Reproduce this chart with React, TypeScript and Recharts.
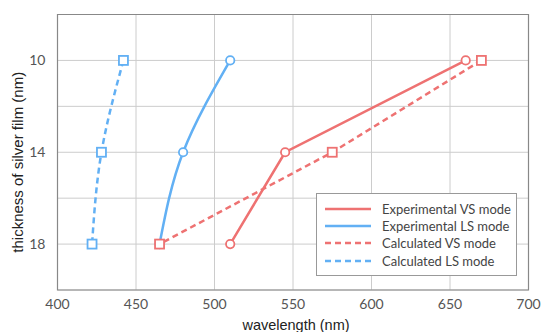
import { LineChart, Line, XAxis, YAxis, CartesianGrid, ReferenceArea } from 'recharts'

const thickness = [10, 14, 18]
const expVS = [660, 545, 510]
const expLS = [510, 480, 465]
const calcVS = [670, 575, 465]
const calcLS = [442, 428, 422]

const xTicks = [400, 450, 500, 550, 600, 650, 700]
const yTicks = [8, 10, 12, 14, 16, 18, 20]
const yLabels = [10, 14, 18]

const RED = '#EE7272'
const BLUE = '#62B0F4'

const toRows = (values: number[]) => thickness.map((t, i) => ({ t, wl: values[i] }))

const series = [
  { name: 'Experimental VS mode', data: toRows(expVS), color: RED, dashed: false, square: false, curve: 'linear' },
  { name: 'Experimental LS mode', data: toRows(expLS), color: BLUE, dashed: false, square: false, curve: 'monotone' },
  { name: 'Calculated VS mode', data: toRows(calcVS), color: RED, dashed: true, square: true, curve: 'linear' },
  { name: 'Calculated LS mode', data: toRows(calcLS), color: BLUE, dashed: true, square: true, curve: 'monotone' }
]

// blue first so the red square at (465, 18) sits on top
const drawOrder = [1, 3, 0, 2]

const tickFont = { fontFamily: 'Lato, sans-serif', fontSize: 14, fill: '#555' }

const makeDot = (color: string, square: boolean) => (props: any) => {
  const { cx, cy, index } = props
  if (cx == null || cy == null) return <g key={index} />
  if (square) {
    return (
      <rect key={index} x={cx - 4.5} y={cy - 4.5} width={9} height={9}
        fill="#fff" stroke={color} strokeWidth={1.8} />
    )
  }
  return <circle key={index} cx={cx} cy={cy} r={4.2} fill="#fff" stroke={color} strokeWidth={1.8} />
}

function ChartLegend() {
  return (
    <div style={{
      position: 'absolute', left: 316, top: 193, width: 199, height: 75,
      border: '1px solid #999', background: '#fff', paddingTop: 6,
      fontFamily: 'Lato, sans-serif', fontSize: 13, color: '#444'
    }}>
      {series.map((s) => (
        <div key={s.name} style={{ display: 'flex', alignItems: 'center', height: 17.4 }}>
          <svg width={57} height={6} style={{ marginLeft: 8 }}>
            <line x1={0} y1={3} x2={46} y2={3} stroke={s.color} strokeWidth={2.5}
              strokeDasharray={s.dashed ? '6 4' : undefined} />
          </svg>
          <span style={{ whiteSpace: 'nowrap' }}>{s.name}</span>
        </div>
      ))}
    </div>
  )
}

export default function App() {
  return (
    <div style={{ position: 'absolute', left: 0, top: 0, width: 541, height: 332, background: '#fff' }}>
      <LineChart width={541} height={332} layout="vertical"
        margin={{ top: 14.5, right: 12.5, bottom: 0, left: 0 }}>
        <CartesianGrid stroke="#cccccc" strokeWidth={1} />
        <XAxis type="number" dataKey="wl" domain={[400, 700]} ticks={xTicks} allowDataOverflow
          height={42} axisLine={false} tickLine={false} tickSize={6} tickMargin={3} tick={tickFont}
          label={{ value: 'wavelength (nm)', position: 'center', dx: 3, dy: 14,
            style: { fontFamily: '"Liberation Sans", Arial, sans-serif', fontSize: 14.5, fill: '#222' } }} />
        <YAxis type="number" dataKey="t" domain={[8, 20]} ticks={yTicks} allowDataOverflow
          width={57.5} axisLine={false} tickLine={false} tickSize={6} tickMargin={6} tick={tickFont}
          tickFormatter={(v: number) => (yLabels.includes(v) ? String(v) : '')}
          label={{ value: 'thickness of silver film (nm)', angle: -90, position: 'center', dx: -11, dy: 10,
            style: { fontFamily: '"Liberation Sans", Arial, sans-serif', fontSize: 15, fill: '#222' } }} />
        <ReferenceArea x1={400} x2={700} y1={8} y2={20} fill="none" stroke="#888" strokeWidth={1.2} ifOverflow="visible" />
        {drawOrder.map((i) => {
          const s = series[i]
          return (
            <Line key={s.name} name={s.name} data={s.data} dataKey="wl" type={s.curve as any}
              stroke={s.color} strokeWidth={2.5} strokeDasharray={s.dashed ? '6 4' : undefined}
              dot={makeDot(s.color, s.square)} activeDot={false} isAnimationActive={false} />
          )
        })}
      </LineChart>
      <ChartLegend />
    </div>
  )
}
